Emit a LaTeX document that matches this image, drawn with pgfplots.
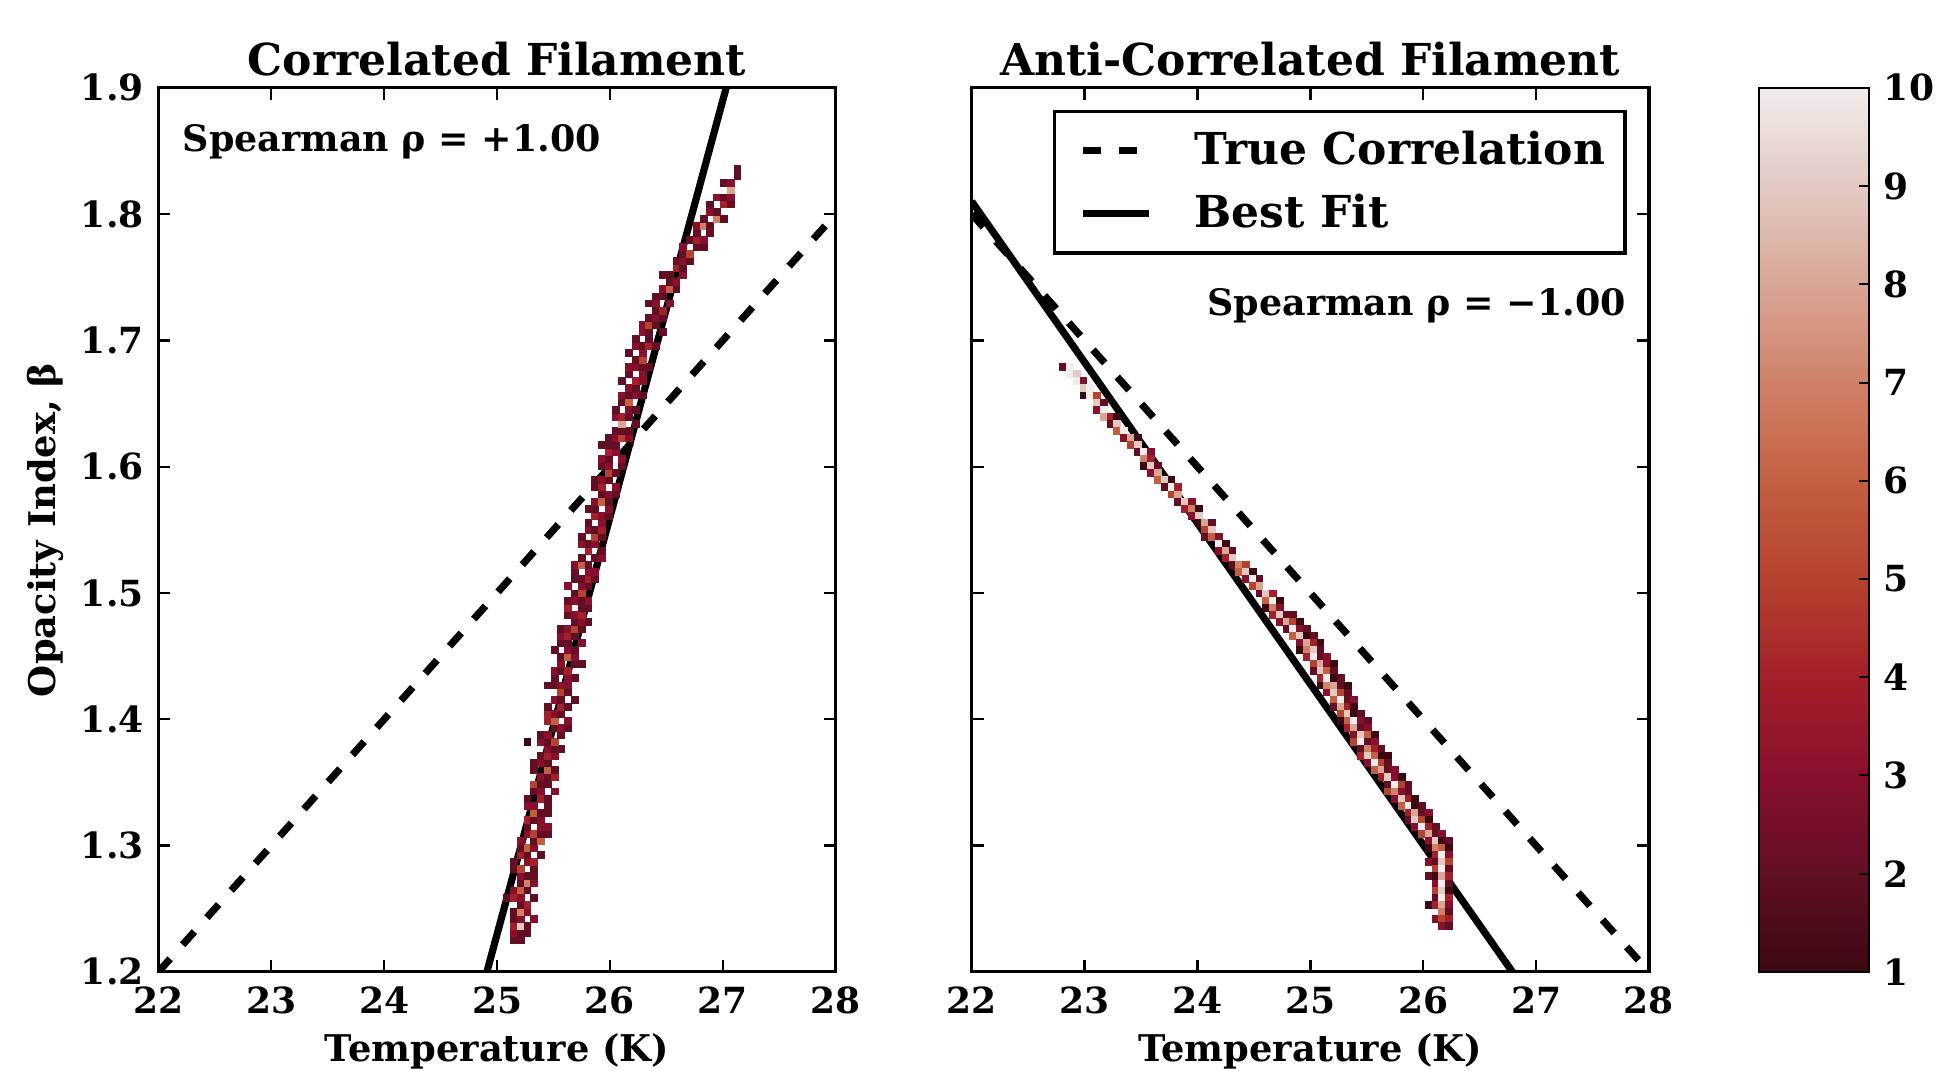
\documentclass[border=0pt]{standalone}
\usepackage{fontspec}
\setmainfont{DejaVu Serif}
\usepackage{pgfplots}
\usepackage{pgfplotstable}
\pgfplotsset{compat=1.18}
\pgfplotsset{
  /pgf/number format/assume math mode=true,
  colormap={amp}{rgb255(0cm)=(60,9,18) rgb255(1cm)=(98,15,36) rgb255(2cm)=(137,16,45)
    rgb255(3cm)=(163,32,42) rgb255(4cm)=(181,66,46) rgb255(5cm)=(196,96,66)
    rgb255(6cm)=(208,129,104) rgb255(7cm)=(217,166,150) rgb255(8cm)=(226,201,195)
    rgb255(9cm)=(241,237,236)},
  filament/.style={
    scale only axis, width=169.3pt, height=221pt,
    xmin=22, xmax=28, ymin=1.2, ymax=1.9,
    xtick={22,23,24,25,26,27,28},
    ytick={1.2,1.3,1.4,1.5,1.6,1.7,1.8,1.9},
    tick align=inside, xtick pos=both, ytick pos=both,
    major tick length=3pt,
    tick style={black, line width=0.6pt},
    axis line style={black, line width=0.8pt},
    tick label style={font=\bfseries\fontsize{9}{10}\selectfont},
    xticklabel style={anchor=base, yshift=-10.3pt},
    yticklabel style={anchor=east, inner sep=0pt, xshift=-3.5pt,
      /pgf/number format/fixed, /pgf/number format/fixed zerofill,
      /pgf/number format/precision=1},
    label style={font=\bfseries\fontsize{9.2}{10}\selectfont},
    xlabel style={at={(axis description cs:0.5,0)}, anchor=base, yshift=-22.5pt},
    title style={font=\bfseries\fontsize{11}{13}\selectfont,
      at={(axis description cs:0.5,1)}, anchor=base, yshift=-3.0pt},
    colormap name=amp, point meta min=1, point meta max=10,
    xlabel={Temperature (K)},
  },
  histcells/.style={scatter, only marks, mark=square*, mark size=0.86pt,
    point meta=explicit,
    scatter/use mapped color={draw=mapped color, fill=mapped color, line width=0pt},
    forget plot},
  truecorr/.style={black, line width=1.8pt, dash pattern=on 4.4pt off 4.7pt},
  bestfit/.style={black, line width=1.8pt},
}

% 2D histogram cells: j = temperature bin (0.06 K from 22 K), i = beta bin (0.0056 from 1.2), c = count
\pgfplotstableread{
j i c
52 4 2
53 4 2
52 5 3
53 5 2
54 5 2
52 6 4
53 6 9
54 6 2
52 7 2
53 7 3
55 7 3
52 8 2
53 8 7
54 8 3
53 9 2
54 9 4
51 10 2
52 10 4
53 10 3
55 10 2
52 11 3
53 11 6
54 11 2
53 12 2
54 12 7
55 12 3
53 13 3
54 13 2
55 13 2
52 14 2
53 14 5
55 14 2
52 15 2
54 15 3
55 15 4
53 16 4
54 16 2
56 16 2
53 17 2
54 17 6
55 17 3
53 18 3
55 18 2
56 18 6
54 19 3
55 19 5
56 19 2
57 19 2
54 20 2
56 20 3
57 20 3
54 21 4
55 21 2
56 21 3
55 22 6
56 22 2
57 22 2
54 23 3
55 23 3
57 23 2
54 24 2
56 24 4
57 24 2
55 25 2
56 25 3
58 25 3
55 26 5
56 26 2
57 26 2
56 27 3
57 27 2
58 27 4
55 28 2
57 28 6
58 28 2
55 29 2
56 29 3
57 29 2
56 30 2
57 30 4
58 30 3
57 31 3
58 31 2
59 31 2
54 32 1
56 32 3
57 32 2
58 32 5
56 33 2
57 33 3
59 33 2
58 34 2
59 34 3
60 34 2
57 35 4
58 35 6
60 35 3
57 36 4
58 36 3
59 36 2
57 37 2
59 37 4
60 37 2
58 38 3
59 38 2
61 38 2
59 39 5
60 39 2
57 40 2
58 40 2
59 40 3
60 40 3
58 41 2
60 41 3
61 41 2
58 42 3
59 42 2
60 42 4
59 43 3
61 43 2
62 43 2
59 44 2
60 44 6
61 44 3
58 45 2
60 45 3
61 45 2
59 46 2
60 46 2
62 46 3
59 47 3
60 47 4
61 47 2
59 48 2
60 48 3
61 48 5
62 48 2
61 49 2
62 49 3
63 49 2
60 50 2
61 50 3
62 50 4
60 51 4
62 51 2
63 51 2
60 52 2
61 52 3
62 52 2
63 52 3
61 53 2
62 53 5
60 54 3
62 54 3
63 54 2
61 55 2
62 55 2
63 55 4
64 55 2
61 56 2
63 56 3
64 56 3
61 57 3
62 57 6
63 57 2
62 58 2
64 58 2
65 58 3
63 59 4
65 59 2
62 60 3
63 60 2
64 60 3
62 61 2
64 61 5
65 61 2
63 62 3
64 62 2
65 62 4
63 63 2
65 63 3
64 64 4
65 64 3
66 64 2
63 65 2
64 65 2
66 65 3
64 66 3
65 66 6
66 66 2
65 67 2
66 67 3
67 67 2
64 68 2
65 68 4
67 68 3
64 69 2
65 69 3
66 69 2
66 70 5
67 70 2
65 71 2
66 71 3
68 71 2
65 72 3
66 72 2
68 72 3
66 73 4
67 73 3
65 74 2
66 74 2
67 74 2
66 75 2
67 75 3
68 75 5
69 75 3
67 76 2
68 76 2
69 76 2
68 77 8
70 77 2
67 78 3
68 78 4
69 78 2
67 79 2
69 79 3
70 79 2
68 80 2
69 80 6
68 81 3
69 81 2
70 81 3
71 81 2
69 82 3
70 82 2
68 83 2
70 83 4
71 83 3
69 84 2
71 84 3
69 85 3
70 85 3
71 85 2
72 85 2
70 86 2
71 86 5
69 87 2
71 87 3
70 88 3
71 88 2
72 88 4
73 88 2
70 89 2
72 89 2
71 90 3
72 90 2
74 90 2
71 91 3
72 91 5
73 91 2
72 92 2
73 92 3
74 92 2
73 93 2
74 93 4
72 94 2
73 94 3
75 94 3
73 95 2
74 95 2
74 96 3
75 96 6
76 96 2
75 97 2
76 97 3
74 98 2
75 98 2
77 98 3
76 99 4
77 99 2
76 100 2
77 100 3
78 100 2
77 101 2
78 101 5
77 102 3
79 102 2
80 102 2
78 103 2
79 103 4
80 103 3
79 104 2
81 104 2
79 105 3
80 105 7
81 105 2
80 106 2
82 106 7
83 106 2
81 107 3
82 107 2
81 108 2
83 108 4
84 108 2
82 109 3
83 109 2
84 109 3
84 110 8
83 111 2
84 111 3
85 112 2
85 113 2
}\corrcells

\pgfplotstableread{
j i c
13 85 2
14 85 10
14 84 10
15 84 9
15 83 10
16 83 3
16 82 9
17 82 10
16 81 1
17 81 10
18 81 5
18 80 9
19 80 2
18 79 3
19 79 10
19 78 8
20 78 4
21 78 1
20 77 2
21 77 9
21 76 6
22 76 10
22 75 3
23 75 8
24 75 1
23 74 5
24 74 9
24 73 2
25 73 10
26 73 3
25 72 7
26 72 4
25 71 1
26 71 9
27 71 2
26 70 3
27 70 8
27 69 6
28 69 9
29 69 1
28 68 2
29 68 10
30 68 4
29 67 5
30 67 8
30 66 2
31 66 9
32 66 3
31 65 4
32 65 7
33 65 1
32 64 3
33 64 9
33 63 1
34 63 8
35 63 2
34 62 5
35 62 9
34 61 2
35 61 6
36 61 3
36 60 10
37 60 1
36 59 3
37 59 8
38 59 2
37 58 4
38 58 9
38 57 2
39 57 7
40 57 5
39 56 6
40 56 9
41 56 1
40 55 3
41 55 10
42 55 2
41 54 5
42 54 8
42 53 2
43 53 9
44 53 4
43 52 6
44 52 10
45 52 1
43 51 1
44 51 7
45 51 3
44 50 4
45 50 9
46 50 2
47 50 2
45 49 3
46 49 8
47 49 5
48 49 1
46 48 2
47 48 10
48 48 3
49 48 2
47 47 6
48 47 9
49 47 1
50 47 2
48 46 3
49 46 8
50 46 4
51 46 1
48 45 1
49 45 7
50 45 9
51 45 2
49 44 4
50 44 10
51 44 2
52 44 3
50 43 5
51 43 8
52 43 3
53 43 1
50 42 2
51 42 9
52 42 6
53 42 2
51 41 4
52 41 10
53 41 1
54 41 2
51 40 1
52 40 7
53 40 8
54 40 2
55 40 1
52 39 3
53 39 9
54 39 5
55 39 2
53 38 6
54 38 10
55 38 2
56 38 3
53 37 2
54 37 8
55 37 4
56 37 1
54 36 5
55 36 9
56 36 1
57 36 2
54 35 1
55 35 6
56 35 10
57 35 3
58 35 2
55 34 4
56 34 8
57 34 2
58 34 3
56 33 3
57 33 9
58 33 6
59 33 1
56 32 5
57 32 10
58 32 2
59 32 3
57 31 2
58 31 7
59 31 4
60 31 2
57 30 4
58 30 9
59 30 6
60 30 1
61 30 1
58 29 3
59 29 10
60 29 5
61 29 2
59 28 6
60 28 8
61 28 2
62 28 3
60 27 4
61 27 9
62 27 3
63 27 1
61 26 2
62 26 10
63 26 5
64 26 2
61 25 5
62 25 7
63 25 3
64 25 2
62 24 3
63 24 9
64 24 4
65 24 1
63 23 6
64 23 10
65 23 1
66 23 2
64 22 4
65 22 8
66 22 2
67 22 3
64 21 2
65 21 9
66 21 5
67 21 1
65 20 3
66 20 10
67 20 4
68 20 2
66 19 5
67 19 8
68 19 2
69 19 3
67 18 3
68 18 9
69 18 1
70 18 2
67 17 1
68 17 7
69 17 6
70 17 1
68 16 4
69 16 10
70 16 3
67 15 3
68 15 2
69 15 9
70 15 5
68 14 5
69 14 10
70 14 2
67 13 2
68 13 1
69 13 8
70 13 4
68 12 3
69 12 10
70 12 2
68 11 5
69 11 9
70 11 1
68 10 2
69 10 10
70 10 4
67 9 1
68 9 4
69 9 8
70 9 3
69 8 7
70 8 2
68 7 3
69 7 5
70 7 4
69 6 3
70 6 2
}\anticells

\begin{document}
\begin{tikzpicture}

% left panel
\begin{axis}[filament, at={(0pt,0pt)}, anchor=south west,
  title={Correlated Filament}, ylabel={Opacity Index, β},
  ylabel style={at={(axis description cs:-0.1666,0.5)}, anchor=center}]

\addplot[histcells] table[x expr=22.03+0.06*\thisrow{j},
  y expr=1.2028+0.0056*\thisrow{i}, meta=c] {\corrcells};

\addplot[truecorr] coordinates {(22,1.2) (28,1.8)};
\addplot[bestfit] coordinates {(24.91,1.2) (27.03,1.9)};

\node[anchor=base west, inner sep=0pt, font=\bfseries\fontsize{9.1}{10}\selectfont]
  at (axis description cs:0.0349,0.9285) {Spearman ρ = +1.00};
\end{axis}

% right panel
\begin{axis}[filament, at={(203.3pt,0pt)}, anchor=south west,
  title={Anti-Correlated Filament}, yticklabels={},
  legend style={at={(0.967,0.975)}, anchor=north east, draw=black,
    line width=0.8pt, fill=white,
    font=\bfseries\fontsize{11}{13}\selectfont,
    inner xsep=5pt, inner ysep=4.9pt, row sep=5.85pt, column sep=10.5pt,
    nodes={inner sep=0pt}},
  legend cell align=left,
  legend image code/.code={\path (0pt,0pt); \draw[#1] (1.3pt,0pt) -- (17.8pt,0pt);},
  colorbar,
  colorbar/width=27.5pt,
  colorbar style={
    at={(parent axis.north east)}, anchor=north west, xshift=19pt,
    scale only axis, width=27.5pt, height=221pt,
    ytick={1,2,3,4,5,6,7,8,9,10},
    ytick pos=right, yticklabel pos=right, tick align=inside,
    major tick length=2.5pt,
    tick style={black, line width=0.5pt},
    axis line style={black, line width=0.6pt},
    yticklabel style={font=\bfseries\fontsize{9}{10}\selectfont,
      anchor=west, inner sep=0pt, xshift=3.5pt},
  }]

\addplot[histcells] table[x expr=22.03+0.06*\thisrow{j},
  y expr=1.2028+0.0056*\thisrow{i}, meta=c] {\anticells};

\addplot[truecorr] coordinates {(22,1.8) (28,1.2)};
\addlegendentry{True Correlation}
\addplot[bestfit] coordinates {(22,1.81) (26.79,1.2)};
\addlegendentry{Best Fit}

\node[anchor=base east, inner sep=0pt, font=\bfseries\fontsize{9.1}{10}\selectfont]
  at (axis description cs:0.967,0.742) {Spearman ρ = −1.00};
\end{axis}

\pgfresetboundingbox
\path[use as bounding box] (-39.6pt,-24.55pt) rectangle (445.6pt,242.95pt);
\end{tikzpicture}
\end{document}
